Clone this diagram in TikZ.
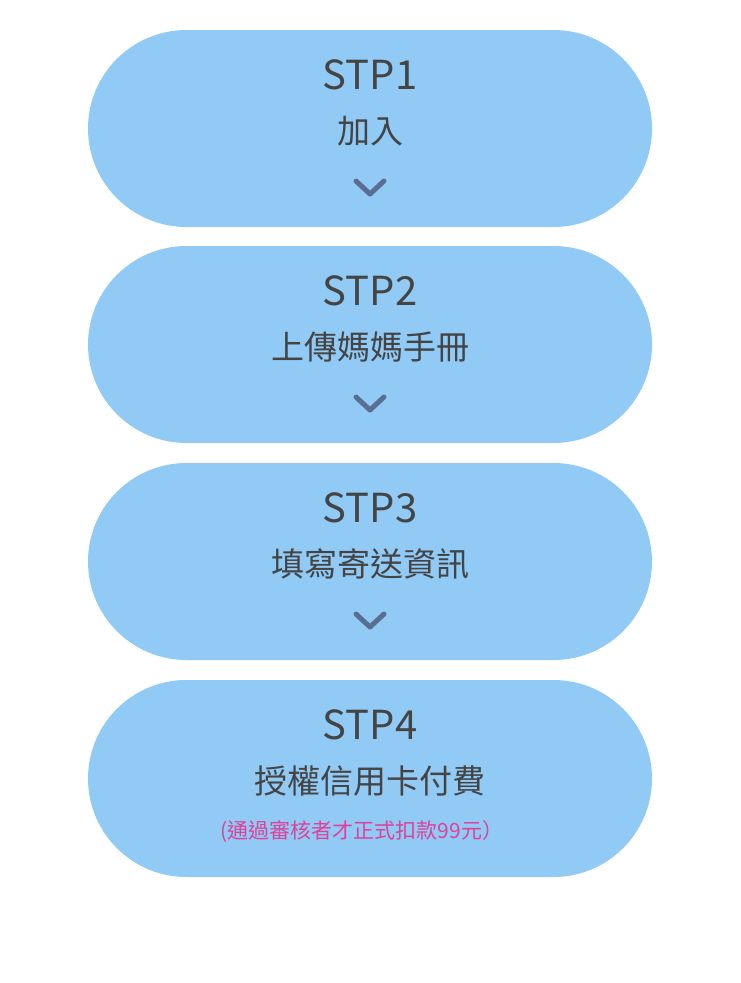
\documentclass[tikz,border=0pt]{standalone}
\usepackage{fontspec}
\setmainfont{Noto Sans CJK TC}
\definecolor{pill}{HTML}{90CAF5}
\definecolor{txt}{HTML}{444444}
\definecolor{chev}{HTML}{5A6E94}
\definecolor{pinkt}{HTML}{E0409A}
\begin{document}
\begin{tikzpicture}[x=1pt,y=-1pt,
  pillbox/.style={fill=pill,draw=none,rounded corners=98.5pt},
  stp/.style={text=txt,font=\fontsize{40}{40}\selectfont\addfontfeature{FakeStretch=1.0}},
  cn/.style={text=txt,font=\fontsize{33}{33}\selectfont},
  chevstyle/.style={draw=chev,line width=5pt,line cap=round,line join=round}]
\useasboundingbox (0,0) rectangle (740,983);
\foreach \i/\t/\c in {1/30/加入/登入會員,2/246/上傳媽媽手冊,3/463/填寫寄送資訊,4/680/授權信用卡付費}{
  \fill[pillbox] (88,\t) rectangle (652,\t+197);
  \node[stp] (s\i) at (370,\t+45) {STP\i};
  \node[cn] (c\i) at (370,\t+101) {\c};
}
\foreach \t in {30,246,463}{
  \coordinate (a) at (356,\t+151);
  \draw[chevstyle] (356,\t+151) -- (370,\t+164) -- (384,\t+151);
}
\node[text=pinkt,font=\fontsize{21}{21}\selectfont] (p) at (362,832) {(通過審核者才正式扣款99元）};
\end{tikzpicture}
\end{document}
